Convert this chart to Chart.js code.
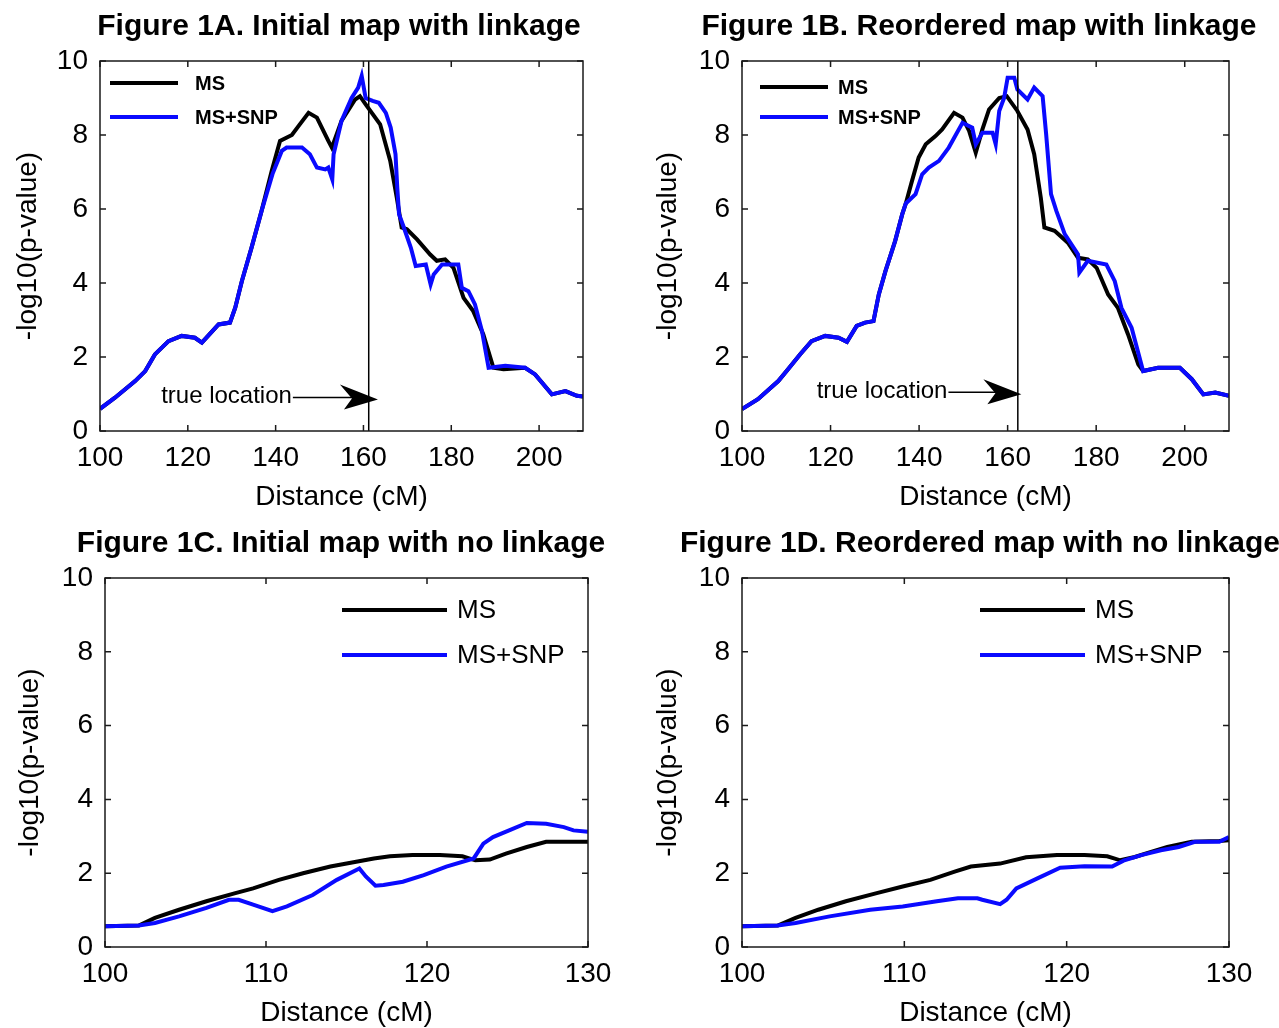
<!DOCTYPE html>
<html><head><meta charset="utf-8">
<script src="https://cdn.jsdelivr.net/npm/chart.js@4.4.1/dist/chart.umd.min.js"></script>
<style>
html,body{margin:0;padding:0;background:#fff;overflow:hidden;width:1279px;height:1028px;}
.p{position:absolute;}
</style></head><body>
<div class="p" style="left:0px;top:0px;width:678px;height:514px"><canvas id="ca"></canvas></div>
<div class="p" style="left:640px;top:0px;width:678px;height:514px"><canvas id="cb"></canvas></div>
<div class="p" style="left:0px;top:514px;width:682px;height:514px"><canvas id="cc"></canvas></div>
<div class="p" style="left:640px;top:514px;width:680px;height:514px"><canvas id="cd"></canvas></div>
<script>
// ---------- data ----------
const seriesLabels = ['MS', 'MS+SNP'];
const xTitle = 'Distance (cM)';
const yTitle = '-log10(p-value)';
const yTicks = [0, 2, 4, 6, 8, 10];
const xTicksAB = [100, 120, 140, 160, 180, 200];
const xTicksCD = [100, 110, 120, 130];

// Figure 1A
const aMsX = [100,103.4,108,110.3,112.5,115.6,118.6,121.6,123.2,127,129.6,130.8,132.3,134.5,136.8,139.1,141,143.7,145.2,147.5,149.4,152,152.8,155,158.1,159.2,160.5,163.8,166.1,167.6,168.7,169.9,172.2,175.2,176.7,178.6,180.5,182.8,185,187.3,189.6,191.9,196.8,199.1,202.9,206,208.6,210];
const aMsY = [0.6,0.9,1.35,1.62,2.07,2.43,2.57,2.52,2.39,2.88,2.93,3.33,4.05,4.95,5.95,7.03,7.84,8.0,8.24,8.6,8.47,7.84,7.66,8.38,8.96,9.05,8.83,8.29,7.3,6.3,5.5,5.45,5.18,4.77,4.6,4.64,4.41,3.6,3.24,2.61,1.71,1.67,1.71,1.53,0.99,1.08,0.95,0.93];
const aSnpX = [100,103.4,108,110.3,112.5,115.6,118.6,121.6,123.2,127,129.6,130.8,132.3,134.5,136.8,139.3,141.4,142.5,146,147.8,149.4,151.3,152,152.9,153.2,155,157.3,158.8,159.6,160.5,162.1,163.5,165.1,166.2,167.3,167.7,168.1,169.2,170.8,171.9,174.2,175.3,176,177.9,181.6,182.4,183.9,185.4,187,188.5,192.3,196.8,199.1,202.9,206,208.6,210];
const aSnpY = [0.6,0.9,1.35,1.62,2.07,2.43,2.57,2.52,2.39,2.88,2.93,3.33,4.05,4.95,5.95,6.95,7.57,7.66,7.66,7.48,7.12,7.07,7.12,6.8,7.48,8.38,9.0,9.28,9.6,9.0,8.92,8.87,8.6,8.2,7.48,6.58,5.86,5.5,4.95,4.46,4.5,3.96,4.23,4.5,4.5,3.87,3.78,3.42,2.7,1.71,1.76,1.71,1.53,0.99,1.08,0.95,0.93];
const aTrueLoc = 161.2;

// Figure 1B
const bMsX = [100,103.6,108.2,110.4,113.1,115.7,118.8,121.8,123.7,125.9,127.8,129.7,130.9,132.4,134.6,136.2,137,138.4,139.9,141.5,143.7,145.2,147.9,149.8,151.3,152.8,154.3,155.8,158.1,159.8,162.2,164.5,166,167.5,168.3,170.6,173.6,175.9,178.1,180.1,182.7,184.9,187.2,189.5,190.6,194,198.9,201.6,204.2,206.9,210];
const bMsY = [0.59,0.86,1.35,1.67,2.07,2.43,2.57,2.52,2.41,2.84,2.93,2.97,3.69,4.32,5.14,5.86,6.15,6.76,7.39,7.75,7.97,8.15,8.6,8.47,8.11,7.52,8.15,8.69,9.0,9.05,8.65,8.15,7.48,6.3,5.5,5.41,5.09,4.68,4.64,4.41,3.69,3.33,2.61,1.8,1.62,1.71,1.71,1.4,0.99,1.04,0.95];
const bSnpX = [100,103.6,108.2,110.4,113.1,115.7,118.8,121.8,123.7,125.9,127.8,129.7,130.9,132.4,134.6,136.2,137,139.2,140.7,142.2,144.5,146.7,149.8,152,152.8,154.3,156.6,157.3,158.1,159.2,160,161.5,162.2,164.5,166,167.9,168.7,169.8,171,172.9,175.9,176.2,178.1,182.3,184.2,185.7,188,190.6,194,198.9,201.6,204.2,206.9,210];
const bSnpY = [0.59,0.86,1.35,1.67,2.07,2.43,2.57,2.52,2.41,2.84,2.93,2.97,3.69,4.32,5.14,5.86,6.15,6.4,6.94,7.12,7.3,7.66,8.33,8.2,7.75,8.06,8.06,7.75,8.65,9.0,9.55,9.55,9.23,8.96,9.28,9.05,8.02,6.4,5.95,5.32,4.77,4.28,4.6,4.5,4.05,3.33,2.79,1.62,1.71,1.71,1.4,0.99,1.04,0.95];
const bTrueLoc = 162.3;

// Figure 1C
const cMsX = [100,102.1,103.1,104.6,106.3,108.1,109.2,110.8,112.3,114,115.6,116.7,117.7,119.1,120.8,122.2,123,123.9,124.9,126.2,127.4,128.7,130];
const cMsY = [0.56,0.58,0.79,1.01,1.24,1.46,1.59,1.82,2.0,2.18,2.31,2.4,2.46,2.49,2.49,2.46,2.35,2.37,2.53,2.71,2.85,2.85,2.85];
const cSnpX = [100,102.1,103.1,104.6,106.3,107.7,108.3,109.2,110.4,111.3,112.9,114.4,115.8,116.2,116.8,117.3,118.5,119.8,121.2,122.9,123.5,124.1,125.1,126.2,127.4,128.5,129.1,130];
const cSnpY = [0.56,0.58,0.65,0.83,1.06,1.28,1.28,1.15,0.97,1.1,1.41,1.82,2.13,1.91,1.66,1.68,1.77,1.95,2.18,2.4,2.8,2.98,3.16,3.36,3.34,3.25,3.16,3.12];

// Figure 1D
const dMsX = [100,102.2,103.3,104.7,106.4,108.3,109.9,111.6,113.1,114.1,115.9,117.5,119.4,121.1,122.5,123.3,124.2,125.2,126.2,127.7,129.4,130];
const dMsY = [0.56,0.58,0.79,1.01,1.24,1.46,1.64,1.82,2.04,2.18,2.26,2.43,2.49,2.49,2.46,2.35,2.44,2.58,2.71,2.85,2.87,2.89];
const dSnpX = [100,102.2,103.3,105.4,107.9,109.9,112,113.3,114.5,114.8,115.9,116.3,116.9,118.2,119.6,121.1,122.8,123.5,124.6,125.8,126.9,127.9,129.4,130];
const dSnpY = [0.56,0.58,0.65,0.83,1.01,1.1,1.24,1.32,1.32,1.28,1.16,1.28,1.59,1.86,2.15,2.19,2.18,2.34,2.49,2.62,2.71,2.85,2.85,2.98];

const titles = ['Figure 1A. Initial map with linkage','Figure 1B. Reordered map with linkage','Figure 1C. Initial map with no linkage','Figure 1D. Reordered map with no linkage'];
const annotText = 'true location';

// ---------- helpers ----------
const FONT = '"Liberation Sans", Arial, Helvetica, sans-serif';
Chart.defaults.font.family = FONT;
Chart.defaults.color = '#000';
const zip = (xs, ys) => xs.map((x, i) => ({x: x, y: ys[i]}));
const BLUE = '#0a0aff';

const deco = {
  id: 'deco',
  afterDatasetsDraw(chart, args, o) {
    const ctx = chart.ctx, a = chart.chartArea;
    const xs = chart.scales.x, ys = chart.scales.y;
    ctx.save();
    // frame
    ctx.strokeStyle = '#1a1a1a'; ctx.lineWidth = 1.5;
    ctx.strokeRect(a.left, a.top, a.right - a.left, a.bottom - a.top);
    // inward ticks
    const tl = 6;
    ctx.beginPath();
    o.xTicks.forEach(v => { const p = xs.getPixelForValue(v);
      ctx.moveTo(p, a.bottom); ctx.lineTo(p, a.bottom - tl);
      ctx.moveTo(p, a.top); ctx.lineTo(p, a.top + tl); });
    yTicks.forEach(v => { const p = ys.getPixelForValue(v);
      ctx.moveTo(a.left, p); ctx.lineTo(a.left + tl, p);
      ctx.moveTo(a.right, p); ctx.lineTo(a.right - tl, p); });
    ctx.stroke();
    // legend
    const L = o.legend;
    const colors = ['#000', BLUE];
    seriesLabels.forEach((lab, i) => {
      const y = a.top + L.ys[i];
      ctx.strokeStyle = colors[i]; ctx.lineWidth = 4;
      ctx.beginPath(); ctx.moveTo(a.left + L.x0, y); ctx.lineTo(a.left + L.x1, y); ctx.stroke();
      ctx.fillStyle = '#000'; ctx.font = L.font; ctx.textBaseline = 'middle'; ctx.textAlign = 'left';
      ctx.fillText(lab, a.left + L.tx, y + 1);
    });
    // arrow annotation
    if (o.arrow) {
      const A = o.arrow;
      const tx = xs.getPixelForValue(A.tipX), ty = ys.getPixelForValue(A.tipY);
      const ex = xs.getPixelForValue(A.textEndX);
      ctx.font = '24px ' + FONT; ctx.fillStyle = '#000'; ctx.textAlign = 'right'; ctx.textBaseline = 'middle';
      ctx.fillText(annotText, ex, ty - 2);
      ctx.strokeStyle = '#000'; ctx.lineWidth = 1.5;
      ctx.beginPath(); ctx.moveTo(ex + 1, ty - 1); ctx.lineTo(tx - 24, ty - 1); ctx.stroke();
      ctx.beginPath();
      ctx.moveTo(tx, ty + 1);
      ctx.lineTo(tx - 38, ty - 14);
      ctx.lineTo(tx - 26, ty);
      ctx.lineTo(tx - 34, ty + 11);
      ctx.closePath(); ctx.fill();
    }
    ctx.restore();
  }
};

function makePanel(id, p) {
  const datasets = [
    {label: seriesLabels[0], data: zip(p.msX, p.msY), borderColor: '#000', borderWidth: 4, pointRadius: 0, tension: 0, order: 2},
    {label: seriesLabels[1], data: zip(p.snpX, p.snpY), borderColor: BLUE, borderWidth: 4, pointRadius: 0, tension: 0, order: 1}
  ];
  if (p.trueLoc !== undefined) {
    datasets.push({label: annotText, data: [{x: p.trueLoc, y: 0}, {x: p.trueLoc, y: 10}], borderColor: '#000', borderWidth: 1.5, pointRadius: 0, order: 0});
  }
  new Chart(document.getElementById(id), {
    type: 'line',
    data: {datasets},
    options: {
      responsive: true, maintainAspectRatio: false, animation: false,
      layout: {padding: 0},
      plugins: {
        legend: {display: false}, tooltip: {enabled: false},
        title: {display: true, text: p.title, color: '#000', font: {size: 30, weight: 'bold', family: FONT, lineHeight: 1.2}, padding: {top: p.tTop, bottom: p.tBot}, fullSize: true},
        deco: {legend: p.legend, arrow: p.arrow, xTicks: p.xTicks}
      },
      scales: {
        x: {type: 'linear', min: p.xMin, max: p.xMax,
            afterBuildTicks: s => { s.ticks = p.xTicks.map(v => ({value: v})); },
            ticks: {font: {size: 28}, color: '#000', padding: 10, maxRotation: 0, autoSkip: false},
            grid: {display: false, drawTicks: false}, border: {display: false},
            title: {display: true, text: xTitle, color: '#000', font: {size: 28, lineHeight: 1.0}, padding: {top: 0, bottom: p.xtPad}},
            afterFit: s => { s.height = p.xh; }},
        y: {type: 'linear', min: 0, max: 10, position: 'left',
            afterBuildTicks: s => { s.ticks = yTicks.map(v => ({value: v})); },
            ticks: {font: {size: 28}, color: '#000', padding: 12},
            grid: {display: false, drawTicks: false}, border: {display: false},
            title: {display: true, text: yTitle, color: '#000', font: {size: 28, lineHeight: 1.2}, padding: {top: p.ytPad, bottom: 0}},
            afterFit: s => { s.width = p.yw; }},
        yR: {type: 'linear', position: 'right', display: true,
            ticks: {display: false}, grid: {display: false, drawTicks: false}, border: {display: false},
            afterFit: s => { s.width = p.rw; }}
      }
    },
    plugins: [deco]
  });
}

makePanel('ca', {title: titles[0], msX: aMsX, msY: aMsY, snpX: aSnpX, snpY: aSnpY, trueLoc: aTrueLoc,
  xMin: 100, xMax: 210, xTicks: xTicksAB, yw: 100, rw: 95, xh: 83, tTop: 8.5, tBot: 16.5, ytPad: 11, xtPad: 3,
  legend: {x0: 10, x1: 78, tx: 95, ys: [22, 56], font: 'bold 20px ' + FONT},
  arrow: {tipX: 163.3, tipY: 0.88, textEndX: 143.7}});
makePanel('cb', {title: titles[1], msX: bMsX, msY: bMsY, snpX: bSnpX, snpY: bSnpY, trueLoc: bTrueLoc,
  xMin: 100, xMax: 210, xTicks: xTicksAB, yw: 102, rw: 89, xh: 83, tTop: 8.5, tBot: 16.5, ytPad: 11, xtPad: 3,
  legend: {x0: 18, x1: 86, tx: 96, ys: [26, 56], font: 'bold 20px ' + FONT},
  arrow: {tipX: 163.1, tipY: 1.02, textEndX: 146.4}});
makePanel('cc', {title: titles[2], msX: cMsX, msY: cMsY, snpX: cSnpX, snpY: cSnpY,
  xMin: 100, xMax: 130, xTicks: xTicksCD, yw: 105, rw: 94, xh: 81, tTop: 11.5, tBot: 16.5, ytPad: 13, xtPad: 1,
  legend: {x0: 237, x1: 342, tx: 352, ys: [32, 77], font: '26px ' + FONT}});
makePanel('cd', {title: titles[3], msX: dMsX, msY: dMsY, snpX: dSnpX, snpY: dSnpY,
  xMin: 100, xMax: 130, xTicks: xTicksCD, yw: 102, rw: 91, xh: 81, tTop: 11.5, tBot: 16.5, ytPad: 11, xtPad: 1,
  legend: {x0: 238, x1: 343, tx: 353, ys: [32, 77], font: '26px ' + FONT}});
</script>
</body></html>
